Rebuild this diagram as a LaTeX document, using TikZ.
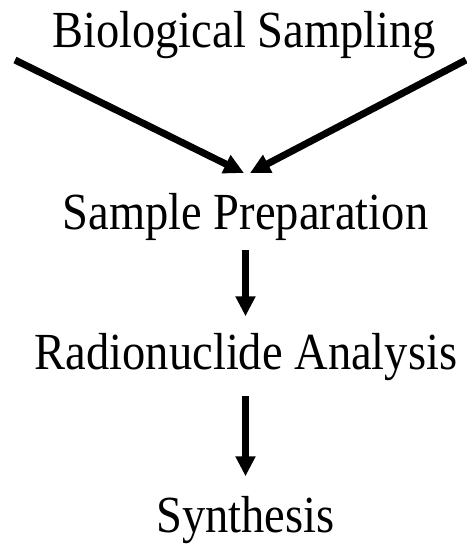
\documentclass[tikz,border=0pt]{standalone}
\usepackage{graphicx}
\usepackage{fontspec}
\setmainfont{Liberation Serif}
\usetikzlibrary{arrows.meta,positioning}
\begin{document}
\begin{tikzpicture}[
    x=1pt, y=-1pt,
    font=\fontsize{46.5}{50}\selectfont,
    lbl/.style={inner sep=0pt, anchor=base},
    arr/.style={-{Triangle[length=20pt,width=19pt]}, line width=7pt}
  ]
    \useasboundingbox (0,0) rectangle (466,546);
    \node[lbl] (bio) at (244,47) {\scalebox{1}[1.12]{Biological Sampling}};
    \node[lbl] (prep) at (245.5,229) {\scalebox{1}[1.12]{Sample Preparation}};
    \node[lbl] (anal) at (246,369) {\scalebox{1}[1.12]{Radionuclide Analysis}};
    \node[lbl] (syn) at (245.5,532) {\scalebox{1}[1.12]{Synthesis}};
    \coordinate (lin) at (15,60);
    \coordinate (rin) at (466,60);
    \coordinate (ltip) at (244,173);
    \coordinate (rtip) at (250,173);
    \draw[arr] (lin) -- (ltip);
    \draw[arr] (rin) -- (rtip);
    \draw[arr, shorten <=9.7pt, shorten >=16.4pt] (prep.south) -- (prep.south |- anal.north);
    \draw[arr, shorten <=15.7pt, shorten >=19.4pt] (prep.south |- anal.south) -- (prep.south |- syn.north);
  \end{tikzpicture}
\end{document}
